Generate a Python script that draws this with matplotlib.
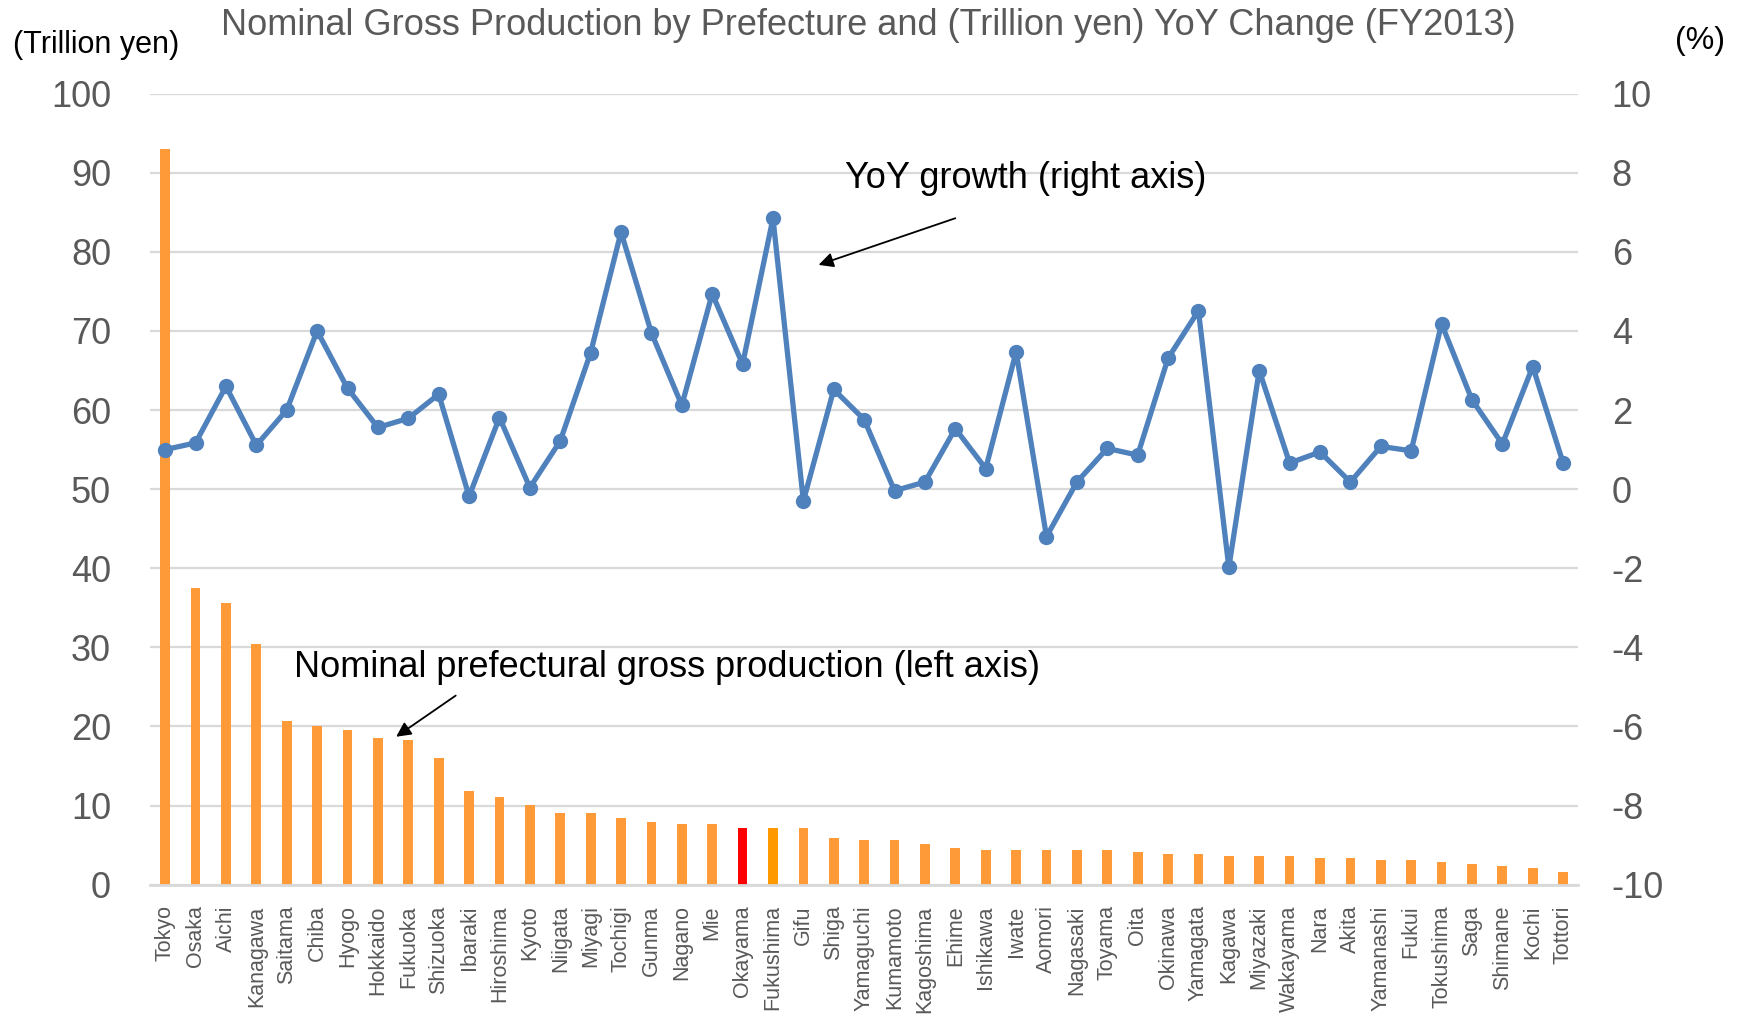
# import libraries
import numpy as np
import matplotlib
matplotlib.use("Agg")
import matplotlib.pyplot as plt

# data (FY2013)
prefectures = ["Tokyo", "Osaka", "Aichi", "Kanagawa", "Saitama", "Chiba", "Hyogo",
               "Hokkaido", "Fukuoka", "Shizuoka", "Ibaraki", "Hiroshima", "Kyoto",
               "Niigata", "Miyagi", "Tochigi", "Gunma", "Nagano", "Mie", "Okayama",
               "Fukushima", "Gifu", "Shiga", "Yamaguchi", "Kumamoto", "Kagoshima",
               "Ehime", "Ishikawa", "Iwate", "Aomori", "Nagasaki", "Toyama", "Oita",
               "Okinawa", "Yamagata", "Kagawa", "Miyazaki", "Wakayama", "Nara",
               "Akita", "Yamanashi", "Fukui", "Tokushima", "Saga", "Shimane",
               "Kochi", "Tottori"]
production = [93.0, 37.5, 35.6, 30.4, 20.7, 20.0, 19.5, 18.6, 18.3, 16.0, 11.8, 11.1,
              10.1, 9.1, 9.1, 8.4, 7.9, 7.7, 7.7, 7.2, 7.2, 7.2, 5.9, 5.6, 5.6, 5.1,
              4.6, 4.4, 4.4, 4.4, 4.4, 4.4, 4.1, 3.9, 3.9, 3.6, 3.6, 3.6, 3.4, 3.4,
              3.1, 3.1, 2.9, 2.6, 2.4, 2.1, 1.6]
yoy_growth = [1.0, 1.17, 2.6, 1.11, 2.0, 4.0, 2.55, 1.56, 1.79, 2.4, -0.18, 1.81,
              0.04, 1.22, 3.45, 6.5, 3.95, 2.12, 4.94, 3.16, 6.85, -0.3, 2.52, 1.76,
              -0.04, 0.18, 1.53, 0.52, 3.47, -1.2, 0.18, 1.03, 0.86, 3.31, 4.51,
              -1.98, 3.0, 0.66, 0.94, 0.18, 1.08, 0.97, 4.18, 2.26, 1.14, 3.1, 0.66]
left_ticks = list(range(0, 101, 10))
right_ticks = list(range(-10, 11, 2))

narrow = ["Liberation Sans Narrow", "Liberation Sans", "DejaVu Sans"]
regular = ["Liberation Sans", "DejaVu Sans"]
grey = "#595959"

bar_colors = ["#FF9A38"] * len(prefectures)
bar_colors[prefectures.index("Okayama")] = "#FF0000"
bar_colors[prefectures.index("Fukushima")] = "#FF9900"

fig = plt.figure(figsize=(17.44, 10.18), dpi=100)
ax = fig.add_axes([0.086, 0.131, 0.819, 0.777])
x = np.arange(len(prefectures))

# bars - left axis
ax.bar(x, production, width=0.32, color=bar_colors, zorder=2)
ax.set_ylim(0, 100)
ax.set_xlim(-0.5, len(prefectures) - 0.5)
ax.set_yticks(left_ticks)
ax.set_yticklabels([str(t) for t in left_ticks], family=narrow, fontsize=26, color=grey)
ax.set_xticks(x)
ax.set_xticklabels(prefectures, rotation=90, family=regular, fontsize=15.5, color=grey)
ax.tick_params(axis="x", length=0, pad=15)
ax.tick_params(axis="y", length=0, pad=28)
ax.grid(axis="y", color="#D9D9D9", linewidth=1.6, zorder=0)
ax.set_axisbelow(True)
for s in ["top", "left", "right"]:
    ax.spines[s].set_visible(False)
ax.spines["bottom"].set_color("#D9D9D9")
ax.spines["bottom"].set_linewidth(2)

# line - right axis
ax2 = ax.twinx()
ax2.plot(x, yoy_growth, color="#4F81BD", linewidth=3.8, marker="o", markersize=10, zorder=3)
ax2.set_ylim(-10, 10)
ax2.set_yticks(right_ticks)
ax2.set_yticklabels([str(t) for t in right_ticks], family=narrow, fontsize=26, color=grey)
ax2.tick_params(axis="y", length=0, pad=24)
for s in ["top", "left", "right", "bottom"]:
    ax2.spines[s].set_visible(False)

# titles and unit labels
fig.text(0.498, 0.975, "Nominal Gross Production by Prefecture and (Trillion yen) YoY Change (FY2013)",
         ha="center", va="center", family=narrow, fontsize=26, color=grey)
fig.text(0.055, 0.956, "(Trillion yen)", ha="center", va="center", family=narrow,
         fontsize=22, color="black")
fig.text(0.975, 0.960, "(%)", ha="center", va="center", family=narrow,
         fontsize=23, color="black")

# annotations (text and arrow drawn separately)
arrow = dict(arrowstyle="-|>", color="black", lw=1.3, mutation_scale=22, shrinkA=0, shrinkB=0)
ax2.text(28.3, 7.86, "YoY growth (right axis)", ha="center", va="center",
         family=regular, fontsize=26, color="black")
ax2.annotate("", xy=(21.5, 5.67), xytext=(26.0, 6.85), arrowprops=arrow)
ax.text(16.5, 27.4, "Nominal prefectural gross production (left axis)", ha="center",
        va="center", family=regular, fontsize=26, color="black")
ax.annotate("", xy=(7.6, 18.7), xytext=(9.56, 23.9), arrowprops=arrow)

fig.savefig("out.png", dpi=100)
